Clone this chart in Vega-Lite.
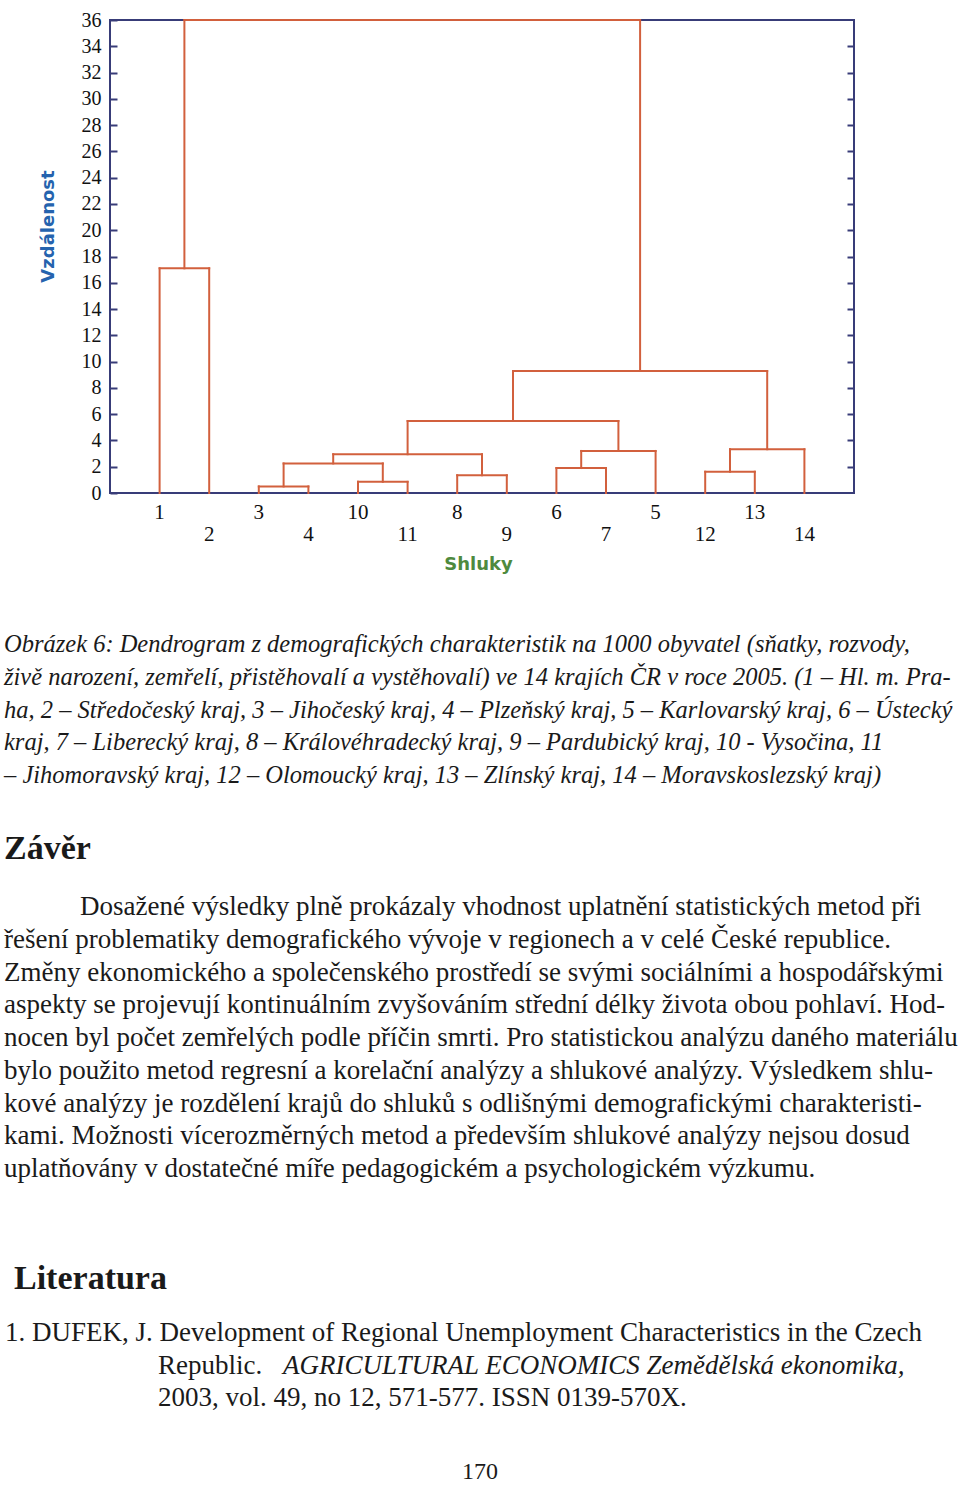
{
  "$schema": "https://vega.github.io/schema/vega-lite/v6.json",
  "background": "white",
  "padding": {"left": 4, "top": 9, "right": 0, "bottom": 0},
  "config": {"view": {"stroke": null}, "font": "Liberation Serif"},
  "bounds": "flush",
  "spacing": 152,
  "resolve": {"scale": {"x": "independent", "y": "independent"}},
  "datasets": {
    "merges": [
      {"xl": 3, "xr": 4, "hl": 0, "hr": 0, "h": 0.5},
      {"xl": 5, "xr": 6, "hl": 0, "hr": 0, "h": 0.85},
      {"xl": 3.5, "xr": 5.5, "hl": 0.5, "hr": 0.85, "h": 2.25},
      {"xl": 7, "xr": 8, "hl": 0, "hr": 0, "h": 1.35},
      {"xl": 4.5, "xr": 7.5, "hl": 2.25, "hr": 1.35, "h": 2.95},
      {"xl": 9, "xr": 10, "hl": 0, "hr": 0, "h": 1.9},
      {"xl": 9.5, "xr": 11, "hl": 1.9, "hr": 0, "h": 3.2},
      {"xl": 6, "xr": 10.25, "hl": 2.95, "hr": 3.2, "h": 5.48},
      {"xl": 12, "xr": 13, "hl": 0, "hr": 0, "h": 1.62},
      {"xl": 12.5, "xr": 14, "hl": 1.62, "hr": 0, "h": 3.33},
      {"xl": 8.125, "xr": 13.25, "hl": 5.48, "hr": 3.33, "h": 9.28},
      {"xl": 1, "xr": 2, "hl": 0, "hr": 0, "h": 17.1},
      {"xl": 1.5, "xr": 10.6875, "hl": 17.1, "hr": 9.28, "h": 36}
    ],
    "leaves": [
      {"pos": 1, "label": "1"}, {"pos": 2, "label": "2"}, {"pos": 3, "label": "3"},
      {"pos": 4, "label": "4"}, {"pos": 5, "label": "10"}, {"pos": 6, "label": "11"},
      {"pos": 7, "label": "8"}, {"pos": 8, "label": "9"}, {"pos": 9, "label": "6"},
      {"pos": 10, "label": "7"}, {"pos": 11, "label": "5"}, {"pos": 12, "label": "12"},
      {"pos": 13, "label": "13"}, {"pos": 14, "label": "14"}
    ],
    "page": [
      {"block": "caption", "line": 0, "t": "Obrázek 6: Dendrogram z demografických charakteristik na 1000 obyvatel (sňatky, rozvody,"},
      {"block": "caption", "line": 1, "t": "živě narození, zemřelí, přistěhovalí a vystěhovalí) ve 14 krajích ČR v roce 2005. (1 – Hl. m. Pra-"},
      {"block": "caption", "line": 2, "t": "ha, 2 – Středočeský kraj, 3 – Jihočeský kraj, 4 – Plzeňský kraj, 5 – Karlovarský kraj, 6 – Ústecký"},
      {"block": "caption", "line": 3, "t": "kraj, 7 – Liberecký kraj, 8 – Královéhradecký kraj, 9 – Pardubický kraj, 10 - Vysočina, 11"},
      {"block": "caption", "line": 4, "t": "– Jihomoravský kraj, 12 – Olomoucký kraj, 13 – Zlínský kraj, 14 – Moravskoslezský kraj)"},
      {"block": "head1", "line": 6.23, "t": "Závěr"},
      {"block": "parafirst", "line": 8, "t": "Dosažené výsledky plně prokázaly vhodnost uplatnění statistických metod při"},
      {"block": "para", "line": 9, "t": "řešení problematiky demografického vývoje v regionech a v celé České republice."},
      {"block": "para", "line": 10, "t": "Změny ekonomického a společenského prostředí se svými sociálními a hospodářskými"},
      {"block": "para", "line": 11, "t": "aspekty se projevují kontinuálním zvyšováním střední délky života obou pohlaví. Hod-"},
      {"block": "para", "line": 12, "t": "nocen byl počet zemřelých podle příčin smrti. Pro statistickou analýzu daného materiálu"},
      {"block": "para", "line": 13, "t": "bylo použito metod regresní a korelační analýzy a shlukové analýzy. Výsledkem shlu-"},
      {"block": "para", "line": 14, "t": "kové analýzy je rozdělení krajů do shluků s odlišnými demografickými charakteristi-"},
      {"block": "para", "line": 15, "t": "kami. Možnosti vícerozměrných metod a především shlukové analýzy nejsou dosud"},
      {"block": "para", "line": 16, "t": "uplatňovány v dostatečné míře pedagogickém a psychologickém výzkumu."},
      {"block": "head2", "line": 19.36, "t": "Literatura"},
      {"block": "reffirst", "line": 21, "t": "1. DUFEK, J. Development of Regional Unemployment Characteristics in the Czech"},
      {"block": "refcont", "line": 22, "t": "Republic."},
      {"block": "refital", "line": 22, "t": "AGRICULTURAL  ECONOMICS  Zemědělská  ekonomika,"},
      {"block": "refcont", "line": 23, "t": "2003, vol. 49, no 12, 571-577. ISSN 0139-570X."},
      {"block": "pagenum", "line": 25.25, "t": "170"}
    ]
  },
  "vconcat": [
    {
      "width": 744,
      "height": 473,
      "view": {"stroke": "#383c78", "strokeWidth": 2},
      "resolve": {"axis": {"y": "independent"}},
      "layer": [
        {
          "data": {"name": "merges"},
          "mark": {"type": "rule", "color": "#d2603d", "strokeWidth": 2, "strokeCap": "square"},
          "encoding": {
            "x": {"field": "xl", "type": "quantitative",
              "scale": {"domain": [0, 15], "nice": false, "zero": false},
              "axis": {"title": "Shluky", "labels": false, "ticks": false, "domain": false, "grid": false,
                "titleFont": "DejaVu Sans", "titleFontWeight": "bold", "titleFontSize": 18, "titleColor": "#4e8a3e",
                "titleX": 368, "titleY": 71, "titleAlign": "center", "titleBaseline": "middle"}},
            "x2": {"field": "xr"},
            "y": {"field": "h", "type": "quantitative",
              "scale": {"domain": [0, 36], "nice": false, "zero": false},
              "axis": {"orient": "left", "values": [0,2,4,6,8,10,12,14,16,18,20,22,24,26,28,30,32,34,36],
                "title": "Vzdálenost", "titleFont": "DejaVu Sans", "titleFontWeight": "bold", "titleFontSize": 18,
                "titleColor": "#2563ae", "titleX": -62, "titleY": 206, "titleAngle": 270, "titleAlign": "center",
                "titleBaseline": "middle", "labelFont": "Liberation Serif", "labelFontSize": 20, "labelColor": "#111111",
                "labelPadding": 16, "tickSize": -7, "tickColor": "#383c78", "tickWidth": 2, "domain": false, "grid": false,
                "labelFlush": false, "labelOverlap": false, "labelBound": false}}
          }
        },
        {
          "data": {"name": "merges"},
          "mark": {"type": "rule", "color": "#d2603d", "strokeWidth": 2, "strokeCap": "square"},
          "encoding": {
            "x": {"field": "xl", "type": "quantitative"},
            "y": {"field": "hl", "type": "quantitative", "axis": null},
            "y2": {"field": "h"}
          }
        },
        {
          "data": {"name": "merges"},
          "mark": {"type": "rule", "color": "#d2603d", "strokeWidth": 2, "strokeCap": "square"},
          "encoding": {
            "x": {"field": "xr", "type": "quantitative"},
            "y": {"field": "hr", "type": "quantitative",
              "axis": {"orient": "right", "values": [2,4,6,8,10,12,14,16,18,20,22,24,26,28,30,32,34],
                "labels": false, "title": null, "tickSize": -7, "tickColor": "#383c78", "tickWidth": 2,
                "domain": false, "grid": false}},
            "y2": {"field": "h"}
          }
        },
        {
          "data": {"name": "leaves"},
          "transform": [{"filter": "datum.pos % 2 == 1"}],
          "mark": {"type": "text", "font": "Liberation Serif", "fontSize": 21, "dy": 20, "baseline": "middle", "color": "#111111"},
          "encoding": {
            "x": {"field": "pos", "type": "quantitative"},
            "y": {"datum": 0, "type": "quantitative", "axis": null},
            "text": {"field": "label"}
          }
        },
        {
          "data": {"name": "leaves"},
          "transform": [{"filter": "datum.pos % 2 == 0"}],
          "mark": {"type": "text", "font": "Liberation Serif", "fontSize": 21, "dy": 42, "baseline": "middle", "color": "#111111"},
          "encoding": {
            "x": {"field": "pos", "type": "quantitative"},
            "y": {"datum": 0, "type": "quantitative", "axis": null},
            "text": {"field": "label"}
          }
        }
      ]
    },
    {
      "width": 744,
      "height": 827,
      "data": {"name": "page"},
      "encoding": {
        "y": {"field": "line", "type": "quantitative",
          "scale": {"domain": [0, 25.25], "nice": false, "zero": false, "reverse": true}, "axis": null},
        "text": {"field": "t"}
      },
      "layer": [
        {"transform": [{"filter": "datum.block == 'caption'"}],
         "mark": {"type": "text", "x": -106, "align": "left", "baseline": "middle", "font": "Liberation Serif", "fontStyle": "italic", "fontSize": 24.5, "color": "#1a1a1a"}},
        {"transform": [{"filter": "datum.block == 'head1'"}],
         "mark": {"type": "text", "x": -106, "align": "left", "baseline": "middle", "font": "Liberation Serif", "fontWeight": "bold", "fontSize": 34, "color": "#1a1a1a"}},
        {"transform": [{"filter": "datum.block == 'parafirst'"}],
         "mark": {"type": "text", "x": -30, "align": "left", "baseline": "middle", "font": "Liberation Serif", "fontSize": 27, "color": "#1a1a1a"}},
        {"transform": [{"filter": "datum.block == 'para'"}],
         "mark": {"type": "text", "x": -106, "align": "left", "baseline": "middle", "font": "Liberation Serif", "fontSize": 27, "color": "#1a1a1a"}},
        {"transform": [{"filter": "datum.block == 'head2'"}],
         "mark": {"type": "text", "x": -96, "align": "left", "baseline": "middle", "font": "Liberation Serif", "fontWeight": "bold", "fontSize": 34, "color": "#1a1a1a"}},
        {"transform": [{"filter": "datum.block == 'reffirst'"}],
         "mark": {"type": "text", "x": -105, "align": "left", "baseline": "middle", "font": "Liberation Serif", "fontSize": 27, "color": "#1a1a1a"}},
        {"transform": [{"filter": "datum.block == 'refcont'"}],
         "mark": {"type": "text", "x": 48, "align": "left", "baseline": "middle", "font": "Liberation Serif", "fontSize": 27, "color": "#1a1a1a"}},
        {"transform": [{"filter": "datum.block == 'refital'"}],
         "mark": {"type": "text", "x": 173, "align": "left", "baseline": "middle", "font": "Liberation Serif", "fontStyle": "italic", "fontSize": 27, "color": "#1a1a1a"}},
        {"transform": [{"filter": "datum.block == 'pagenum'"}],
         "mark": {"type": "text", "x": 370, "align": "center", "baseline": "middle", "font": "Liberation Serif", "fontSize": 24, "color": "#1a1a1a"}}
      ]
    }
  ]
}
